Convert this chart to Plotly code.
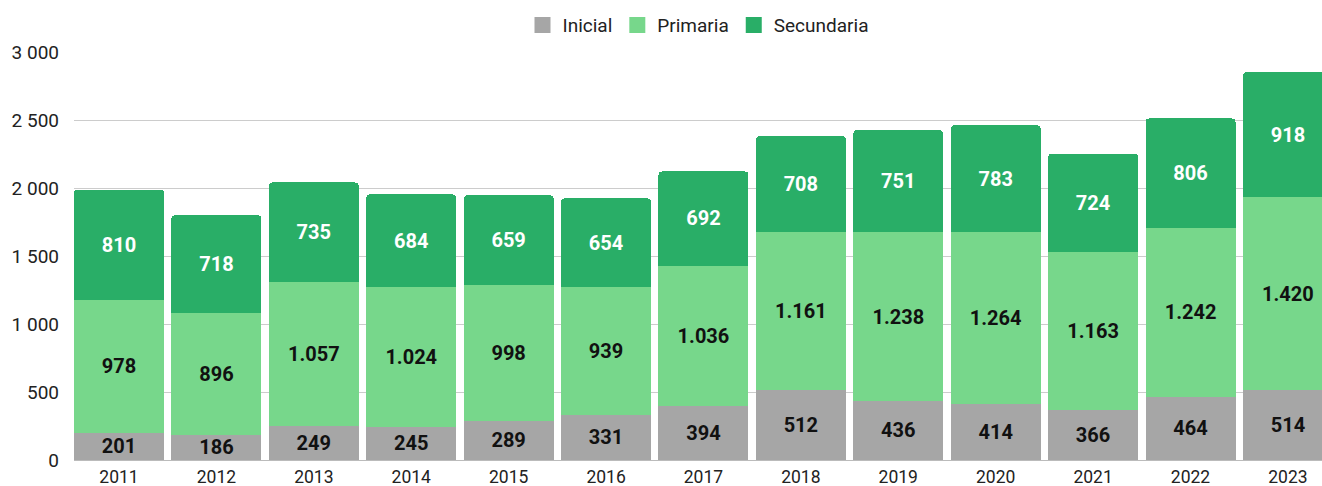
import plotly.graph_objects as go

years = ["2011", "2012", "2013", "2014", "2015", "2016", "2017", "2018", "2019", "2020", "2021", "2022", "2023"]
inicial = [201, 186, 249, 245, 289, 331, 394, 512, 436, 414, 366, 464, 514]
primaria = [978, 896, 1057, 1024, 998, 939, 1036, 1161, 1238, 1264, 1163, 1242, 1420]
secundaria = [810, 718, 735, 684, 659, 654, 692, 708, 751, 783, 724, 806, 918]

ytick_vals = [0, 500, 1000, 1500, 2000, 2500, 3000]
ytick_text = ["0", "500", "1 000", "1 500", "2 000", "2 500", "3 000"]


def fmt(v):
    return f"{v:,}".replace(",", ".")


series = [
    ("Inicial", inicial, "#a6a6a6", "#111111"),
    ("Primaria", primaria, "#77d78b", "#111111"),
    ("Secundaria", secundaria, "#29ae67", "#ffffff"),
]

fig = go.Figure()
for name, vals, color, tcolor in series:
    fig.add_trace(go.Bar(
        x=years, y=vals, name=name, legendgroup=name, showlegend=False,
        marker=dict(color=color, line=dict(width=0)),
        text=[fmt(v) for v in vals],
        textposition="inside",
        insidetextanchor="middle",
        textangle=0,
        textfont=dict(family="Roboto", size=20, color=tcolor, weight="bold"),
        hoverinfo="skip",
    ))
# legend-only entries with larger square swatches
for name, vals, color, tcolor in series:
    fig.add_trace(go.Scatter(
        x=[None], y=[None], name=name, legendgroup=name, mode="markers",
        marker=dict(symbol="square", size=16, color=color, line=dict(width=0)),
        hoverinfo="skip", showlegend=True,
    ))

fig.update_layout(
    width=1322, height=486,
    barmode="stack",
    bargap=0.076,
    barcornerradius=4,
    plot_bgcolor="white", paper_bgcolor="white",
    margin=dict(l=74, r=0, t=52, b=26, autoexpand=False),
    font=dict(family="Roboto", size=18, color="#222222"),
    uniformtext=dict(minsize=20, mode="show"),
    legend=dict(
        orientation="h", x=0.5, xanchor="center", y=1.066, yanchor="middle",
        font=dict(family="Roboto", size=19, color="#222222"),
        itemwidth=30, traceorder="normal", itemsizing="trace",
    ),
    showlegend=True,
)
fig.update_xaxes(
    type="category", range=[-0.462, 12.35],
    showgrid=False, showline=False, zeroline=False,
    ticks="", ticklabelstandoff=4,
    tickfont=dict(family="Roboto", size=17.5, color="#222222"),
    automargin=False,
)
fig.update_yaxes(
    range=[0, 3000], tickvals=ytick_vals, ticktext=ytick_text,
    showgrid=True, gridcolor="#cccccc", gridwidth=1,
    zeroline=True, zerolinecolor="#bbbbbb", zerolinewidth=1,
    showline=False, ticks="", ticklabelstandoff=14,
    tickfont=dict(family="Roboto", size=19, color="#222222"),
    automargin=False,
)

fig.write_html(
    "out.html",
    config={"displayModeBar": False},
    post_script="document.body.style.margin='0';document.body.style.overflow='hidden';",
)
